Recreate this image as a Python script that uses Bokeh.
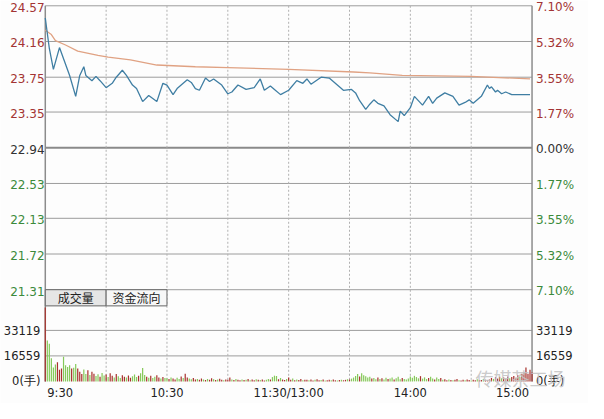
from bokeh.plotting import figure
from bokeh.models import Range1d
from bokeh.core.properties import value
from bokeh.embed import file_html
from bokeh.resources import INLINE

# ---------------- data ----------------
price_ticks = [24.57, 24.16, 23.75, 23.35, 22.94, 22.53, 22.13, 21.72, 21.31]
pct_labels = ["7.10%", "5.32%", "3.55%", "1.77%", "0.00%", "1.77%", "3.55%", "5.32%", "7.10%"]
vol_ticks = [33119, 16559, 0]
vol_labels = ["33119", "16559", "0(手)"]
time_ticks = [0, 60, 120, 180, 240]
time_labels = ["9:30", "10:30", "11:30/13:00", "14:00", "15:00"]
tab_labels = ["成交量", "资金流向"]

price_min = [0, 2, 4, 7, 12, 15, 17, 19, 20, 23, 25, 27, 30, 33, 35, 38, 40, 43, 45, 48,
             51, 55, 58, 60, 63, 65, 67, 70, 72, 74, 76, 79, 81, 83, 87, 90, 92, 95, 99, 103,
             106, 108, 111, 113, 116, 120, 124, 127, 129, 131, 136, 140, 144, 147, 151, 153, 155, 158, 160, 162,
             164, 167, 170, 174, 175, 177, 180, 182, 186, 189, 191, 193, 197, 201, 204, 207, 209, 211, 215, 218,
             219, 220, 222, 223, 225, 227, 230, 234, 239]
price_val = [24.43, 24.08, 23.84, 24.09, 23.77, 23.53, 23.77, 23.87, 23.77, 23.71, 23.76, 23.71, 23.63, 23.68, 23.75, 23.83, 23.77, 23.66, 23.62, 23.47,
             23.54, 23.47, 23.68, 23.66, 23.55, 23.62, 23.66, 23.72, 23.69, 23.62, 23.60, 23.74, 23.70, 23.73, 23.66, 23.56, 23.58, 23.66, 23.61, 23.63,
             23.73, 23.60, 23.65, 23.61, 23.55, 23.60, 23.71, 23.68, 23.73, 23.67, 23.75, 23.74, 23.66, 23.60, 23.61, 23.57, 23.48, 23.38, 23.44, 23.49,
             23.45, 23.42, 23.32, 23.24, 23.36, 23.31, 23.40, 23.53, 23.43, 23.53, 23.45, 23.51, 23.57, 23.53, 23.43, 23.46, 23.49, 23.45, 23.53, 23.66,
             23.62, 23.64, 23.58, 23.60, 23.56, 23.58, 23.55, 23.55, 23.55]

avg_min = [0, 3, 5, 10, 16, 26, 31, 42, 55, 74, 90, 120, 152, 160, 176, 210, 239]
avg_val = [24.29, 24.24, 24.17, 24.12, 24.05, 24.00, 23.98, 23.95, 23.89, 23.87, 23.86, 23.84, 23.81, 23.80, 23.77, 23.76, 23.73]

volume = [48000, 26500, 24400, 15000, 9000, 11000, 12500, 7500, 8300, 16000,
          10400, 9400, 10400, 8300, 8800, 11300, 8300, 6200, 4800, 7700,
          4800, 7300, 4200, 6200, 5000, 3500, 4600, 3000, 5500, 3800,
          4500, 2800, 5200, 3600, 2500, 4800, 3300, 2200, 4000, 3000,
          2600, 3800, 2400, 3400, 4500, 2800, 3600, 5200, 8700, 4200,
          3000, 2400, 3600, 2200, 3000, 4000, 2500, 1800, 2800, 2200,
          2000, 1500, 2600, 1800, 1300, 2400, 1600, 3200, 2200, 5000,
          2600, 1800, 1400, 2200, 1200, 1600, 1000, 1800, 1300, 900,
          1500, 1100, 2100, 1400, 900, 1200, 1700, 1000, 800, 1300,
          1100, 2600, 1200, 900, 1500, 1000, 700, 1300, 900, 1100,
          1600, 800, 1200, 700, 1400, 1000, 900, 1300, 600, 1000,
          1500, 1200, 2800, 3700, 3500, 1400, 2200, 1200, 900, 1500,
          2600, 1000, 1800, 800, 1300, 900, 1500, 700, 1100, 1000,
          800, 1200, 600, 1000, 1400, 700, 900, 1200, 600, 800,
          1000, 700, 1300, 800, 600, 900, 1100, 700, 1000, 1400,
          1200, 1800, 2500, 3500, 4800, 3200, 5300, 4000, 3300, 2500,
          3000, 1800, 2200, 1400, 2600, 1600, 2000, 1200, 2400, 1500,
          1800, 2600, 1300, 2000, 3000, 1400, 2200, 1600, 1200, 1800,
          3200, 2400, 3600, 2800, 2000, 3400, 1800, 2600, 1500, 2200,
          3000, 1800, 1200, 2500, 1600, 2200, 1000, 1400, 800, 1200,
          900, 700, 1100, 1500, 800, 600, 1000, 700, 1300, 900,
          600, 1000, 800, 1400, 700, 900, 1600, 1100, 800, 1200,
          2200, 1600, 2800, 1800, 3000, 2000, 2600, 1700, 3200, 2100,
          2800, 3500, 2400, 4000, 3000, 5000, 6000, 9000, 5000, 7500,
          6000]
vol_dir = ("rgggggrrrg" "gggrggrrrg" "grgrrggrgg" "rgrrgrggrr" "grrgggrggg"
           "rgrggrrgrg" "grgrrggrgr" "rggrrgrrgr" "grrgrgrrgr" "rrgrgrrgrg"
           "rgrrgrgrrg" "grgggrgrrg" "rrgrgrrgrr" "grrgrrgrgr" "rgrrgrgrrg"
           "rggggrgggg" "grggrgrggr" "ggrgggrggg" "gggggrgggr" "ggrggrgrrg"
           "rgrrgrrgrr" "grrgrrgrrr" "rgrrrgrrrg" "rrrrgrrrrr" "r")

# ---------------- layout (figure pixels, from top-left) ----------------
W, H = 588, 403
SX, SY = W / 604.0, H / 419.0
PX_L, PX_R = 46 * SX, 546 * SX             # minute 0 / minute 240
PY_TOP, PY_BOT = 5.5 * SY, 300.7 * SY      # price 24.57 / 21.31
PY_V0, PY_V1 = 396 * SY, 343 * SY          # volume 0 / 33119
PY_TAB = 317.5 * SY
PY_TIME = 408 * SY

ppm = (PX_R - PX_L) / 240.0
x_start = -PX_L / ppm
x_end = 240 + (W - PX_R) / ppm

ppp = (price_ticks[0] - price_ticks[-1]) / (PY_BOT - PY_TOP)
y_end = price_ticks[0] + PY_TOP * ppp
y_start = y_end - H * ppp

vpp = vol_ticks[0] / (PY_V0 - PY_V1)
v_start = -(H - PY_V0) * vpp
v_end = PY_V0 * vpp


def mx(px):
    return x_start + px * SX / ppm


def py(pyy):
    return y_end - pyy * ppp


RED = "#a33434"
GREEN = "#3b8a3b"
DARK = "#333333"
GRID = "#9c9c9c"
FONT = "DejaVu Sans"

p = figure(width=W, height=H, output_backend="svg", toolbar_location=None,
           x_range=Range1d(x_start, x_end), y_range=Range1d(y_start, y_end),
           x_axis_location=None, y_axis_location=None, min_border=0,
           background_fill_color="#fdfdfd", border_fill_color="#fdfdfd")
p.outline_line_color = None
p.grid.visible = False
p.extra_y_ranges = {"vol": Range1d(v_start, v_end)}

# horizontal price grid lines
thin = [t for t in price_ticks if t != price_ticks[4]]
p.segment(x0=[0] * len(thin), x1=[240] * len(thin), y0=thin, y1=thin,
          line_color=GRID, line_width=1)
p.segment(x0=[0], x1=[240], y0=[price_ticks[4]], y1=[price_ticks[4]],
          line_color="#8a8a8a", line_width=2.2)

# volume grid lines
p.segment(x0=[0, 0], x1=[240, 240], y0=vol_ticks[:2], y1=vol_ticks[:2],
          line_color=GRID, line_width=1, y_range_name="vol")

# vertical dotted lines
vx = [30, 60, 90, 120, 150, 180, 210]
p.segment(x0=vx, x1=vx, y0=[price_ticks[0]] * len(vx), y1=[py(PY_V0)] * len(vx),
          line_color="#b0b0b0", line_width=1, line_dash="2 2")

# left / right borders
p.segment(x0=[0, 240], x1=[0, 240], y0=[price_ticks[0]] * 2, y1=[py(PY_V0)] * 2,
          line_color="#8c8c8c", line_width=1.5)

# tabs
p.quad(left=[0, 30], right=[30, 60], top=[price_ticks[-1]] * 2, bottom=[py(PY_TAB)] * 2,
       fill_color=["#e6e6e6", "#f7f7f7"], line_color="#666666", line_width=1)
p.text(x=[15, 45], y=[py((PY_BOT + PY_TAB) / 2)] * 2, text=tab_labels,
       text_font=value("Noto Sans CJK SC"), text_font_size="12px",
       text_align="center", text_baseline="middle", text_color="#222222")

# volume bars
vcol = ["#a8322d" if c == "r" else "#86c95a" for c in vol_dir]
p.vbar(x=list(range(len(volume))), top=volume, bottom=0, width=0.6,
       fill_color=vcol, line_color=None, y_range_name="vol")

# average and price lines
p.line(avg_min, avg_val, line_color="#e0a283", line_width=1.3)
p.line(price_min, price_val, line_color="#3f7ea3", line_width=1.3)

# price labels (left)
lcol = [RED] * 4 + [DARK] + [GREEN] * 4
p.text(x=[mx(10)] * len(price_ticks), y=price_ticks, text=[f"{t:.2f}" for t in price_ticks],
       text_color=lcol, text_font=value(FONT), text_font_size="12px",
       text_align="left", text_baseline="middle", y_offset=1.5)
# pct labels (right)
p.text(x=[mx(550)] * len(price_ticks), y=price_ticks, text=pct_labels,
       text_color=lcol[:-1] + [GREEN], text_font=value(FONT), text_font_size="12px",
       text_align="left", text_baseline="middle", y_offset=1.5)

# volume labels
p.text(x=[mx(41)] * 3, y=vol_ticks, text=vol_labels, text_color="#222222",
       text_font=value(FONT), text_font_size="11.5px", text_align="right",
       text_baseline="middle", y_range_name="vol")
p.text(x=[mx(550)] * 3, y=vol_ticks, text=vol_labels, text_color="#222222",
       text_font=value(FONT), text_font_size="11.5px", text_align="left",
       text_baseline="middle", y_range_name="vol")

# time labels
ty = py(PY_TIME)
p.text(x=[time_ticks[0]], y=[ty], text=[time_labels[0]], x_offset=2,
       text_font=value(FONT), text_font_size="11.5px", text_align="left",
       text_baseline="middle", text_color="#222222")
p.text(x=time_ticks[1:4], y=[ty] * 3, text=time_labels[1:4],
       text_font=value(FONT), text_font_size="11.5px", text_align="center",
       text_baseline="middle", text_color="#222222")
p.text(x=[time_ticks[4]], y=[ty], text=[time_labels[4]], x_offset=-3,
       text_font=value(FONT), text_font_size="11.5px", text_align="right",
       text_baseline="middle", text_color="#222222")

# watermark
p.text(x=[mx(488)], y=[py(392 * SY)], text=["传媒茶工场"], text_font=value("Noto Sans CJK SC"),
       text_font_size="18px", text_align="left", text_baseline="middle",
       text_color="#c4c4c4", text_alpha=0.9)

open("out.html", "w").write(file_html(p, INLINE))
